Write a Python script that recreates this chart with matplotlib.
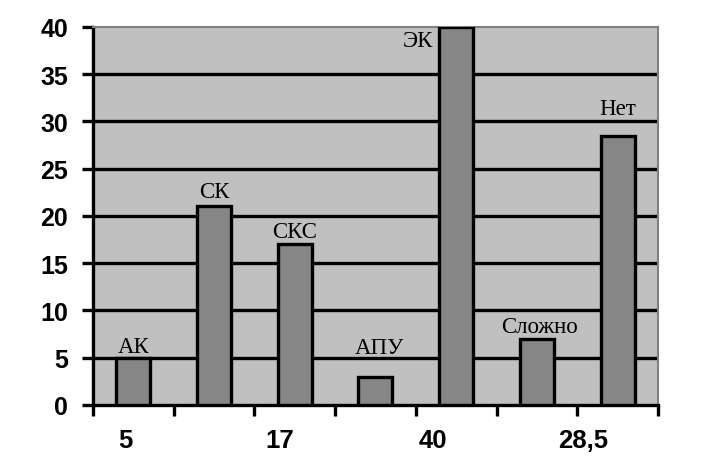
import numpy as np
import matplotlib.pyplot as plt

# data
categories = ['АК', 'СК', 'СКС', 'АПУ', 'ЭК', 'Сложно', 'Нет']
values = [5, 21, 17, 3, 40, 7, 28.5]
xlabels = ['5', '17', '40', '28,5']
xlabel_pos = [-0.1, 1.82, 3.71, 5.58]
yticks = np.arange(0, 45, 5)

# label placement (baseline offsets above the bar top, in data units)
label_off = [0.6, 1.0, 0.8, 2.5, -2.0, 0.7, 2.3]
label_dx = [0, 0, 0, 0.05, 0, 0.03, 0]

fig = plt.figure(figsize=(7.09, 4.64), dpi=100)
ax = fig.add_axes([0.131, 0.125, 0.797, 0.815])
ax.set_facecolor('#c0c0c0')

x = np.arange(len(categories))
ax.bar(x, values, width=0.42, color='#868686', edgecolor='black', linewidth=2.4, zorder=3)

# horizontal grid lines
for yv in yticks[1:-1]:
    ax.axhline(yv, color='black', linewidth=2.4, zorder=1)

ax.set_xlim(-0.5, len(categories) - 0.5)
ax.set_ylim(0, 40)
ax.set_yticks(yticks)
ax.set_yticklabels([str(v) for v in yticks], fontsize=18, fontweight='bold', family='Liberation Sans')
ax.set_xticks(np.arange(-0.5, len(categories), 1.0))
ax.set_xticklabels([])
ax.tick_params(axis='both', length=8, width=2.4, direction='out', color='black')
ax.tick_params(axis='y', pad=10)

for pos, lab in zip(xlabel_pos, xlabels):
    ax.text(pos, -0.093, lab, transform=ax.get_xaxis_transform(), ha='center', va='center',
            fontsize=18.5, fontweight='bold', family='Liberation Sans')

# bar labels
for i, (c, v) in enumerate(zip(categories, values)):
    if v >= 40:
        ax.text(i - 0.28, v + label_off[i], c, ha='right', va='baseline', fontsize=16.5,
                family='Liberation Serif', zorder=4)
    else:
        ax.text(i + label_dx[i], v + label_off[i], c, ha='center', va='baseline', fontsize=16.5,
                family='Liberation Serif', zorder=4)

for s in ['left', 'bottom']:
    ax.spines[s].set_linewidth(2.4)
    ax.spines[s].set_color('black')
for s in ['top', 'right']:
    ax.spines[s].set_linewidth(1.5)
    ax.spines[s].set_color('#808080')

fig.savefig('out.png', dpi=100)
